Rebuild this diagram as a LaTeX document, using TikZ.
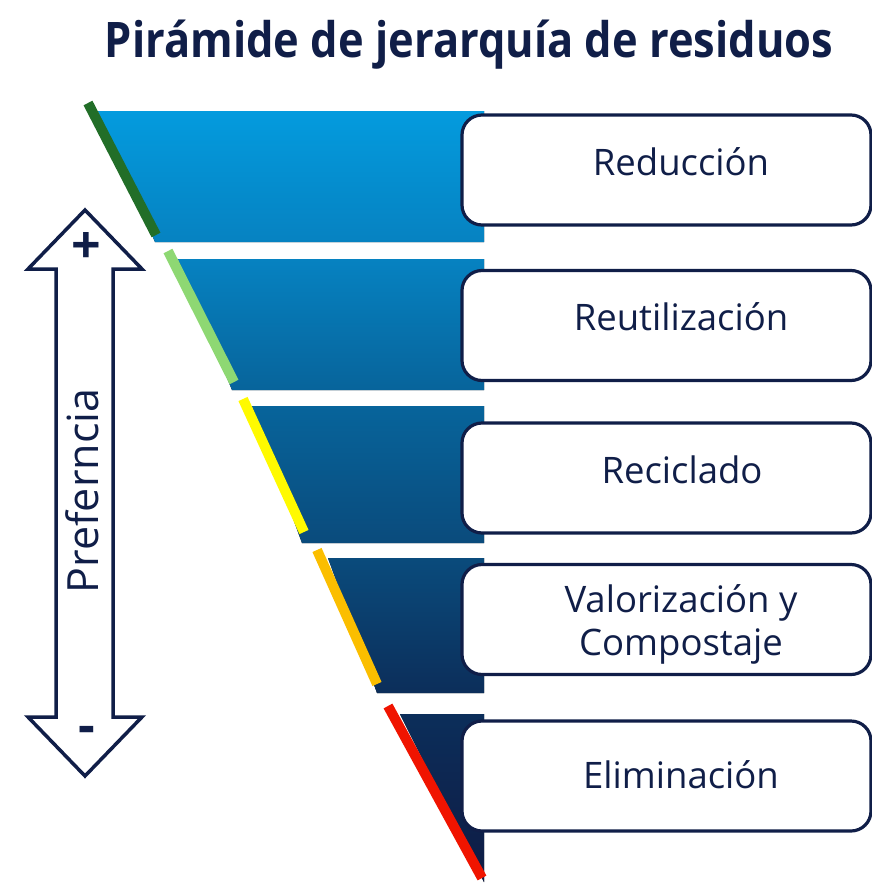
\documentclass[tikz,border=0pt]{standalone}
\usepackage{fontspec}
\setmainfont{Open Sans}
\usetikzlibrary{calc,shapes,positioning}
\newcommand*{\xBand}{484}
\definecolor{Navy}{RGB}{16,30,72}
\definecolor{BandA}{RGB}{4,155,222}
\definecolor{BandB}{RGB}{6,130,193}
\definecolor{BandC}{RGB}{7,100,155}
\definecolor{BandD}{RGB}{10,75,124}
\definecolor{BandE}{RGB}{12,46,90}
\definecolor{BandF}{RGB}{14,27,68}
\definecolor{VerdeOsc}{RGB}{34,110,40}
\definecolor{VerdeCla}{RGB}{142,216,115}
\definecolor{Amarillo}{RGB}{255,250,0}
\definecolor{Naranja}{RGB}{251,190,0}
\definecolor{Rojo}{RGB}{240,20,0}
\tikzset{
	caja/.style={draw=Navy,line width=3.2pt,fill=white,rounded corners=20pt,minimum width=409pt,minimum height=110pt,inner sep=0pt},
	etiqueta/.style={text=Navy,font=\fontsize{36.5}{43}\selectfont,anchor=base,align=center},
	signo/.style={text=Navy,font=\fontsize{52}{56}\selectfont\bfseries},
	borde/.style={line width=10pt}
}
\begin{document}
\begin{tikzpicture}[x=1pt,y=-1pt]
\useasboundingbox (0,0) rectangle (872,884);

% title
\node[text=Navy,anchor=base,font=\fontsize{49}{55}\selectfont\bfseries] (Titulo) at (469,57) {\resizebox{728pt}{\height}{Pirámide de jerarquía de residuos}};

% bands
\begin{scope}
	\fill[top color=BandA,bottom color=BandB] (98,111)--(\xBand,111)--(\xBand,242)--(155,242)--cycle;
	\fill[top color=BandB,bottom color=BandC] (178,259)--(\xBand,259)--(\xBand,390)--(232,390)--cycle;
	\fill[top color=BandC,bottom color=BandD] (252,406)--(\xBand,406)--(\xBand,543)--(302,543)--cycle;
	\fill[top color=BandD,bottom color=BandE] (328,558)--(\xBand,558)--(\xBand,693)--(377,693)--cycle;
	\fill[top color=BandE,bottom color=BandF] (400,714)--(\xBand,714)--(\xBand,882)--cycle;
\end{scope}

% coloured edges
\draw[borde,VerdeOsc] (88,103)--(156,235);
\draw[borde,VerdeCla] (168,251)--(234,382);
\draw[borde,Amarillo] (243,399)--(304,532);
\draw[borde,Naranja] (317,550)--(377,684);
\draw[borde,Rojo] (388,706)--(482,878);

% boxes
\node[caja] (Reduccion) at (666.5,170) {};
\node[caja] (Reutilizacion) at (666.5,325.5) {};
\node[caja] (Reciclado) at (666.5,478) {};
\node[caja] (Valorizacion) at (666.5,619.5) {};
\node[caja] (Eliminacion) at (666.5,776) {};

\node[etiqueta] (tReduccion) at (681,175) {Reducción};
\node[etiqueta] (tReutilizacion) at (681,330) {Reutilización};
\node[etiqueta] (tReciclado) at (682,483) {Reciclado};
\node[etiqueta] (tValorizacion) at (681,655) {Valorización y\\Compostaje};
\node[etiqueta] (tEliminacion) at (681,788) {Eliminación};

% preference arrow
\draw[Navy,line width=3.5pt] (85,210)--(142,269)--(113,269)--(113,717)--(142,717)--(85,776)--(28,717)--(56,717)--(56,269)--(28,269)--cycle;
\node[signo] (Mas) at (86,248) {+};
\node[signo] (Menos) at (87,735) {-};
\node[text=Navy,rotate=90,font=\fontsize{43}{50}\selectfont] (Preferencia) at (82,491) {Preferncia};
\end{tikzpicture}
\end{document}
